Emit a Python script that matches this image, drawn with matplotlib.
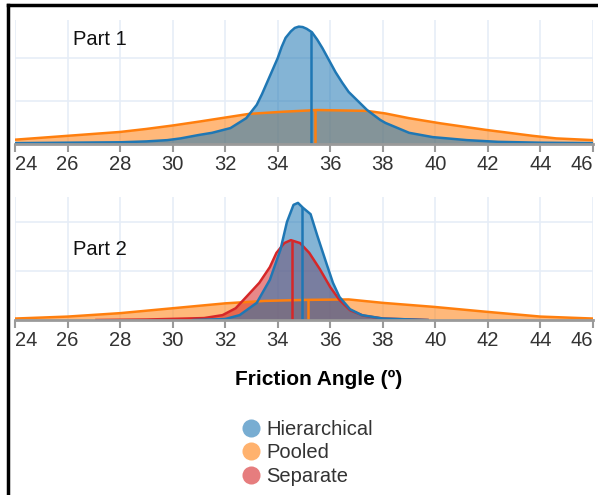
import numpy as np
import matplotlib.pyplot as plt
from matplotlib.lines import Line2D

plt.rcParams['font.family'] = ['Liberation Sans', 'DejaVu Sans']

# friction angle ticks
x_ticks = [24, 26, 28, 30, 32, 34, 36, 38, 40, 42, 44, 46]

# Part 1 : hierarchical posterior
p1_hier_x = [24, 26, 28, 29, 29.8, 30.3, 31.0, 31.5, 32.2, 32.8, 33.2, 33.4, 33.6, 33.8,
             34.0, 34.15, 34.3, 34.5, 34.65, 34.8, 34.95, 35.1, 35.3, 35.5, 35.7, 35.95,
             36.2, 36.45, 36.7, 37.2, 37.4, 37.9, 38.1, 39.0, 39.9, 41.2, 42.4, 44, 46]
p1_hier_y = [0.002, 0.003, 0.004, 0.006, 0.009, 0.013, 0.021, 0.026, 0.037, 0.060, 0.091,
             0.116, 0.144, 0.172, 0.200, 0.226, 0.247, 0.262, 0.270, 0.273, 0.272, 0.268,
             0.260, 0.243, 0.223, 0.195, 0.167, 0.143, 0.121, 0.091, 0.079, 0.056, 0.049,
             0.026, 0.016, 0.009, 0.005, 0.003, 0.002]
# Part 1 : pooled posterior
p1_pool_x = [24, 26, 28, 29, 30, 31, 32.9, 34.2, 35.5, 37.4, 38.1, 39.0, 40.2, 41.9, 43.7,
             44.6, 46]
p1_pool_y = [0.010, 0.019, 0.028, 0.035, 0.043, 0.052, 0.070, 0.075, 0.079, 0.077, 0.071,
             0.060, 0.048, 0.033, 0.019, 0.013, 0.009]

# Part 2 : hierarchical posterior
p2_hier_x = [30.8, 32.0, 32.55, 33.2, 33.7, 34.1, 34.35, 34.6, 34.77, 34.96, 35.25, 35.5,
             35.85, 36.1, 36.35, 36.75, 37.2, 38.0, 39.7]
p2_hier_y = [0.0, 0.002, 0.010, 0.035, 0.082, 0.143, 0.200, 0.235, 0.239, 0.229, 0.216,
             0.173, 0.116, 0.076, 0.047, 0.022, 0.010, 0.003, 0.0]
# Part 2 : separate posterior
p2_sep_x = [27.1, 29.0, 30.5, 31.2, 31.9, 32.4, 32.8, 33.3, 33.7, 33.95, 34.25, 34.5, 34.85,
            35.2, 35.6, 36.0, 36.35, 36.75, 37.25, 38.0, 39.7]
p2_sep_y = [0.0, 0.001, 0.003, 0.004, 0.010, 0.024, 0.047, 0.076, 0.108, 0.137, 0.157,
            0.163, 0.157, 0.137, 0.104, 0.067, 0.041, 0.020, 0.009, 0.003, 0.0]
# Part 2 : pooled posterior
p2_pool_x = [24, 26, 28, 30, 32, 33.5, 35, 36.7, 38, 39.9, 41.9, 44, 46]
p2_pool_y = [0.003, 0.007, 0.014, 0.024, 0.034, 0.039, 0.041, 0.042, 0.035, 0.027, 0.017,
             0.007, 0.003]

# posterior medians
p1_medians = {'Pooled': 35.4, 'Hierarchical': 35.28}
p2_medians = {'Pooled': 35.15, 'Separate': 34.56, 'Hierarchical': 34.92}

colors = {'Hierarchical': '#1f77b4', 'Pooled': '#ff7f0e', 'Separate': '#d62728'}


def draw_dist(ax, x, y, name, med):
    c = colors[name]
    ax.fill_between(x, y, color=c, alpha=0.55, lw=0)
    ax.plot(x, y, color=c, lw=1.8)
    ax.vlines(med, 0, np.interp(med, x, y), color=c, lw=1.8)


def style_axis(ax, ytop):
    ax.set_xlim(24, 46)
    ax.set_ylim(0, ytop)
    ax.set_xticks(x_ticks)
    ax.set_yticks([0.1, 0.2])
    ax.grid(True, color='#e6edf7', lw=1.2)
    ax.set_axisbelow(True)
    for s in ['top', 'left', 'right']:
        ax.spines[s].set_visible(False)
    ax.spines['bottom'].set_color('#9a9a9a')
    ax.spines['bottom'].set_linewidth(2)
    ax.tick_params(axis='x', length=6, width=1.5, color='#9a9a9a', labelsize=14.5,
                   labelcolor='#333333', pad=2)
    ax.tick_params(axis='y', length=0, labelleft=False)
    # keep the end labels inside the plot
    labels = ax.get_xticklabels()
    labels[0].set_ha('left')
    labels[-1].set_ha('right')


fig = plt.figure(figsize=(5.98, 4.95), dpi=100)

ax1 = fig.add_axes([0.0251, 0.7091, 0.9666, 0.2505])
draw_dist(ax1, p1_pool_x, p1_pool_y, 'Pooled', p1_medians['Pooled'])
draw_dist(ax1, p1_hier_x, p1_hier_y, 'Hierarchical', p1_medians['Hierarchical'])
style_axis(ax1, 0.2884)
ax1.text(26.2, 0.242, 'Part 1', fontsize=14.5, va='center', ha='left', color='#111111')

ax2 = fig.add_axes([0.0251, 0.3535, 0.9666, 0.2485])
draw_dist(ax2, p2_pool_x, p2_pool_y, 'Pooled', p2_medians['Pooled'])
draw_dist(ax2, p2_sep_x, p2_sep_y, 'Separate', p2_medians['Separate'])
draw_dist(ax2, p2_hier_x, p2_hier_y, 'Hierarchical', p2_medians['Hierarchical'])
style_axis(ax2, 0.251)
ax2.text(26.2, 0.143, 'Part 2', fontsize=14.5, va='center', ha='left', color='#111111')

fig.text(0.533, 1 - 379 / 495, 'Friction Angle (º)', fontsize=15, fontweight='bold',
         ha='center', va='center')

handles = [Line2D([], [], ls='none', marker='o', markersize=13, markeredgewidth=0,
                  color=colors[n], alpha=0.6)
           for n in ['Hierarchical', 'Pooled', 'Separate']]
fig.legend(handles, ['Hierarchical', 'Pooled', 'Separate'], loc='upper left',
           bbox_to_anchor=(0.383, 1 - 410 / 495), frameon=False, fontsize=14.5,
           labelspacing=0.22, handletextpad=0.15, handlelength=1.2, labelcolor='#333333',
           borderpad=0)

# outer frame (left and top edges)
fig.add_artist(Line2D([8 / 598, 8 / 598], [0, 1 - 5 / 495], color='black', lw=2.5))
fig.add_artist(Line2D([8 / 598, 1], [1 - 5 / 495, 1 - 5 / 495], color='black', lw=2.5))

fig.savefig('out.png', dpi=100)
